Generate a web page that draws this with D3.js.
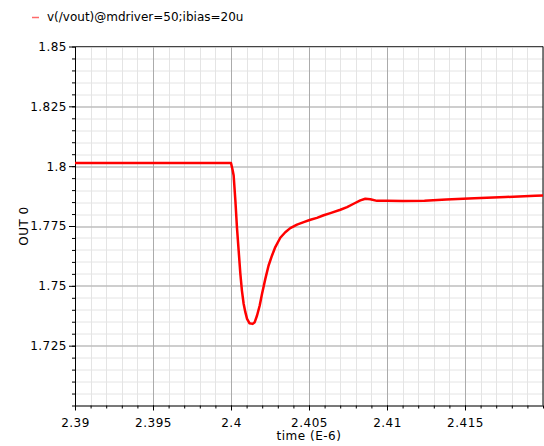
<!DOCTYPE html>
<html>
<head>
<meta charset="utf-8">
<script src="https://cdn.jsdelivr.net/npm/d3@7"></script>
<style>
	body { margin: 0; background: #fff; }
	text { font-family: "DejaVu Sans", sans-serif; }
	.axis path, .axis line { stroke: #000; }
	.axis text { font-size: 12px; letter-spacing: 0.5px; fill: #000; }
</style>
</head>
<body>
<div id="chart-area"></div>
<script>
var seriesName = "v(/vout)@mdriver=50;ibias=20u";
var xLabel = "time (E-6)";
var yLabel = "OUT 0";

var xTicks = [2.39, 2.395, 2.4, 2.405, 2.41, 2.415];
var yTicks = [1.725, 1.75, 1.775, 1.8, 1.825, 1.85];

var time = [2.39, 2.4, 2.40011, 2.40017, 2.40028, 2.40038, 2.40049, 2.4006, 2.4007, 2.40081,
	2.40092, 2.40103, 2.40118, 2.40139, 2.40152, 2.40167, 2.40184, 2.40199, 2.4022, 2.40241,
	2.40263, 2.40284, 2.40316, 2.40348, 2.4038, 2.40423, 2.40466, 2.40509, 2.40551, 2.40594,
	2.40637, 2.40701, 2.40744, 2.40786, 2.40829, 2.40861, 2.40893, 2.40936, 2.41, 2.411,
	2.4124, 2.4138, 2.4156, 2.4176, 2.4195, 2.42];
var vout = [1.8013, 1.8013, 1.7982, 1.7961, 1.7857, 1.7745, 1.7648, 1.755, 1.748, 1.7425,
	1.739, 1.7362, 1.7344, 1.7341, 1.7348, 1.7376, 1.7418, 1.7467, 1.7529, 1.7585,
	1.7627, 1.7662, 1.7701, 1.7724, 1.7741, 1.7756, 1.7766, 1.7776, 1.7784, 1.7795,
	1.7804, 1.7818, 1.7829, 1.7843, 1.7857, 1.7864, 1.7862, 1.7855, 1.7855, 1.7854,
	1.7856, 1.7861, 1.7866, 1.7871, 1.7876, 1.7877];

var margin = { top: 46.5, right: 1, bottom: 40.5, left: 75 };
var width = 544;
var height = 446;
var charWidth = width - margin.left - margin.right;
var charHeight = height - margin.top - margin.bottom;

var svg = d3.select("#chart-area")
	.append("svg")
	.attr("width", width)
	.attr("height", height);

var g = svg.append("g")
	.attr("transform", "translate(" + margin.left + "," + margin.top + ")");

var xScale = d3.scaleLinear()
	.domain([2.39, 2.42])
	.range([0, charWidth]);

var yScale = d3.scaleLinear()
	.domain([1.7, 1.85])
	.range([charHeight, 0]);

var xMinor = d3.range(0, 31).map(i => +(2.39 + i * 0.001).toFixed(3));
var yMinor = d3.range(0, 31).map(i => +(1.7 + i * 0.005).toFixed(3));

// minor grid
g.append("g")
	.selectAll("line.vminor")
	.data(xMinor)
	.enter().append("line")
	.attr("x1", d => Math.round(xScale(d)) + 0.5)
	.attr("x2", d => Math.round(xScale(d)) + 0.5)
	.attr("y1", 0)
	.attr("y2", charHeight)
	.attr("stroke", "#e4e4e4");

g.append("g")
	.selectAll("line.hminor")
	.data(yMinor)
	.enter().append("line")
	.attr("y1", d => Math.round(yScale(d)) + 0.5)
	.attr("y2", d => Math.round(yScale(d)) + 0.5)
	.attr("x1", 0)
	.attr("x2", charWidth)
	.attr("stroke", "#e4e4e4");

// major grid
g.append("g")
	.selectAll("line")
	.data(xTicks)
	.enter().append("line")
	.attr("x1", d => Math.round(xScale(d)) + 0.5)
	.attr("x2", d => Math.round(xScale(d)) + 0.5)
	.attr("y1", 0)
	.attr("y2", charHeight)
	.attr("stroke", "#ababab");

g.append("g")
	.selectAll("line")
	.data(yTicks)
	.enter().append("line")
	.attr("y1", d => Math.round(yScale(d)) + 0.5)
	.attr("y2", d => Math.round(yScale(d)) + 0.5)
	.attr("x1", 0)
	.attr("x2", charWidth)
	.attr("stroke", "#ababab");

// frame top / right
g.append("line")
	.attr("x1", 0).attr("x2", charWidth)
	.attr("y1", 0).attr("y2", 0)
	.attr("stroke", "#444");
g.append("line")
	.attr("x1", charWidth).attr("x2", charWidth)
	.attr("y1", 0).attr("y2", charHeight)
	.attr("stroke", "#000");

// axes
var xMinorAxis = d3.axisBottom(xScale).tickValues(xMinor).tickSize(3).tickFormat("");
g.append("g")
	.attr("class", "axis")
	.attr("transform", "translate(0," + charHeight + ")")
	.call(xMinorAxis)
	.select(".domain").remove();

var xAxis = d3.axisBottom(xScale)
	.tickValues(xTicks)
	.tickSize(5)
	.tickPadding(8)
	.tickSizeOuter(0)
	.tickFormat(d3.format(""));
g.append("g")
	.attr("class", "axis")
	.attr("transform", "translate(0," + charHeight + ")")
	.call(xAxis);

var yMinorAxis = d3.axisLeft(yScale).tickValues(yMinor).tickSize(3).tickFormat("");
g.append("g")
	.attr("class", "axis")
	.call(yMinorAxis)
	.select(".domain").remove();

var yAxis = d3.axisLeft(yScale)
	.tickValues(yTicks)
	.tickSize(6)
	.tickPadding(2)
	.tickSizeOuter(0)
	.tickFormat(d3.format(""));
g.append("g")
	.attr("class", "axis")
	.call(yAxis);

// line
var line = d3.line()
	.x((d, i) => xScale(time[i]))
	.y(d => yScale(d));

g.append("path")
	.datum(vout)
	.attr("fill", "none")
	.attr("stroke", "#ff0000")
	.attr("stroke-width", 2.5)
	.attr("stroke-linejoin", "round")
	.attr("d", line);

// labels
svg.append("text")
	.attr("x", margin.left + charWidth / 2)
	.attr("y", 440)
	.attr("text-anchor", "middle")
	.attr("font-size", "12px")
	.attr("letter-spacing", "0.5px")
	.text(xLabel);

svg.append("text")
	.attr("transform", "translate(28," + (margin.top + charHeight / 2) + ") rotate(-90)")
	.attr("text-anchor", "middle")
	.attr("font-size", "12px")
	.attr("letter-spacing", "0.5px")
	.text(yLabel);

// legend
svg.append("line")
	.attr("x1", 32).attr("x2", 39)
	.attr("y1", 17.5).attr("y2", 17.5)
	.attr("stroke", "#ff6a6a")
	.attr("stroke-width", 1.5);

svg.append("text")
	.attr("x", 47)
	.attr("y", 21)
	.attr("font-size", "12px")
	.text(seriesName);
</script>
</body>
</html>
